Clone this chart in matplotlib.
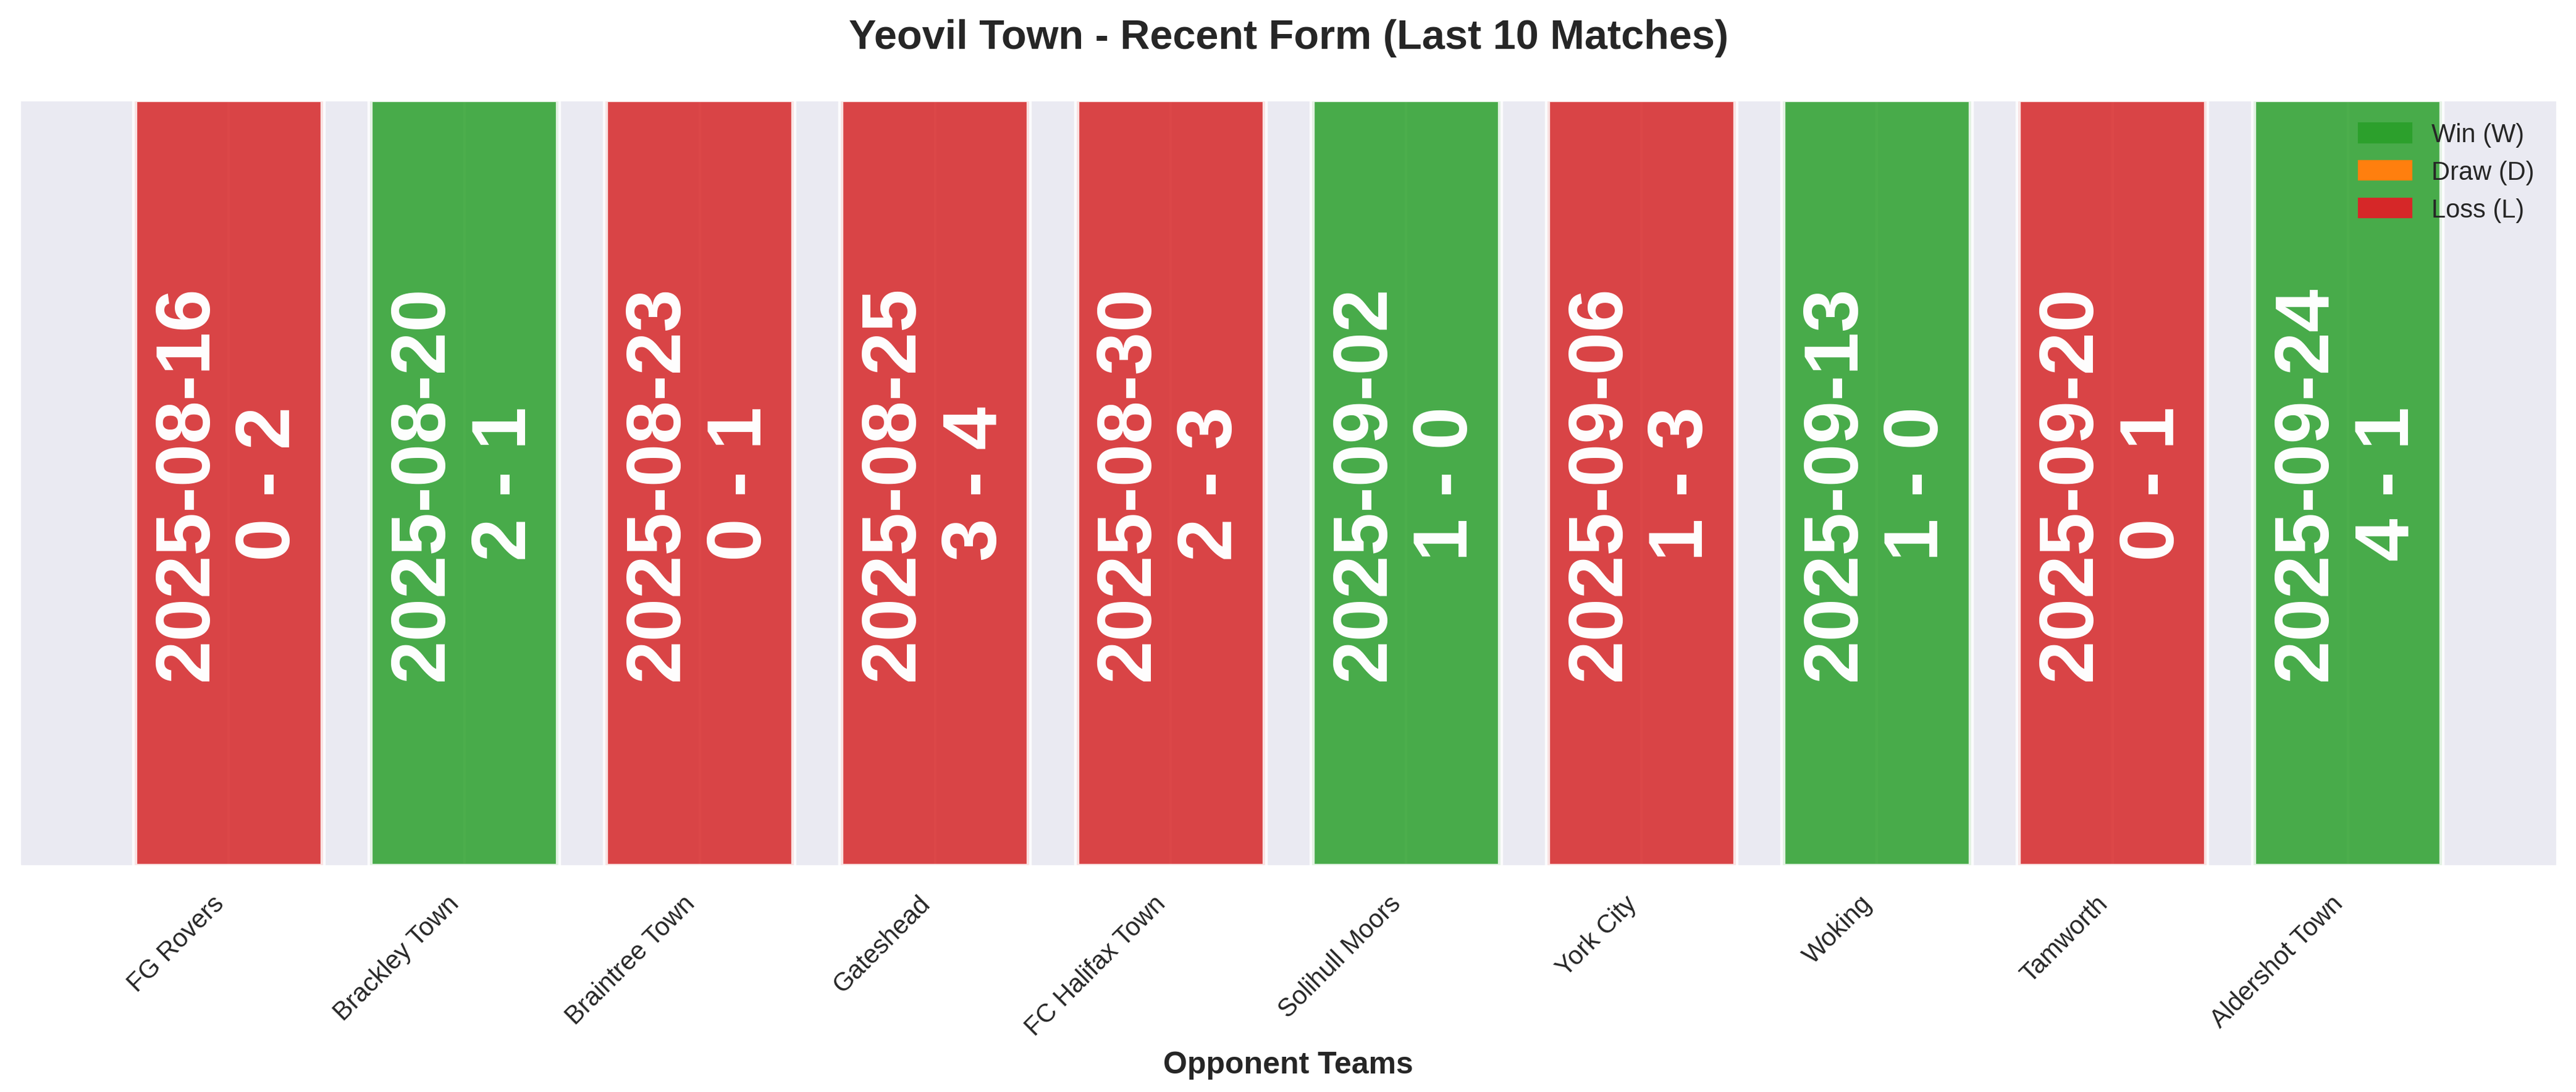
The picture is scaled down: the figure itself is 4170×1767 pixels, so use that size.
import matplotlib
matplotlib.use("Agg")
import matplotlib.pyplot as plt
from matplotlib.patches import Patch
import seaborn as sns

# Dữ liệu 10 trận gần nhất
opponents = ["FG Rovers", "Brackley Town", "Braintree Town", "Gateshead",
             "FC Halifax Town", "Solihull Moors", "York City", "Woking",
             "Tamworth", "Aldershot Town"]
dates = ["2025-08-16", "2025-08-20", "2025-08-23", "2025-08-25", "2025-08-30",
         "2025-09-02", "2025-09-06", "2025-09-13", "2025-09-20", "2025-09-24"]
goals_for = [0, 2, 0, 3, 2, 1, 1, 1, 0, 4]
goals_against = [2, 1, 1, 4, 3, 0, 3, 0, 1, 1]
results = ["L", "W", "L", "L", "L", "W", "L", "W", "L", "W"]
bar_heights = [1, 1, 1, 1, 1, 1, 1, 1, 1, 1]

result_colors = {"W": "#2ca02c", "D": "#ff7f0e", "L": "#d62728"}

sns.set_theme(style="darkgrid")
plt.rcParams["font.family"] = ["Liberation Sans", "DejaVu Sans"]

fig, ax = plt.subplots(figsize=(13.9, 5.893), dpi=300)
fig.subplots_adjust(left=0.0075, right=0.9928, top=0.9084, bottom=0.2064)

x = range(len(opponents))
colors = [result_colors[r] for r in results]
ax.bar(x, bar_heights, color=colors, alpha=0.85, edgecolor="white", linewidth=2)

# Ngày và tỉ số trên mỗi cột
for i in x:
    label = f"{dates[i]}\n{goals_for[i]} - {goals_against[i]}"
    ax.text(i, bar_heights[i] / 2, label, rotation=90, ha="center", va="center",
            multialignment="center", color="white", fontsize=30, fontweight="bold")

ax.set_ylim(0, 1)
ax.set_yticks([])
ax.set_xticks(list(x))
ax.set_xticklabels(opponents, rotation=45, ha="right", fontsize=10)
ax.set_xlabel("Opponent Teams", fontsize=12, fontweight="bold")
ax.set_title("Yeovil Town - Recent Form (Last 10 Matches)", fontsize=16,
             fontweight="bold", pad=20)

handles = [Patch(color=result_colors["W"], label="Win (W)"),
           Patch(color=result_colors["D"], label="Draw (D)"),
           Patch(color=result_colors["L"], label="Loss (L)")]
ax.legend(handles=handles, loc="upper right", frameon=False, fontsize=10)

plt.savefig("out.png", dpi=300)
plt.close()
